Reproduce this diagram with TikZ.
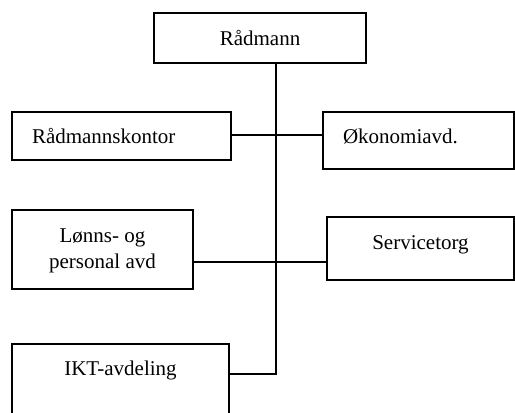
\documentclass[tikz,border=0pt]{standalone}
\usepackage{fontspec}
\setmainfont{Liberation Serif}
\usepackage{tikz}
\usetikzlibrary{calc}
\tikzstyle{line} = [draw, line width=2pt]
\tikzstyle{unit} = [rectangle, draw, line width=2pt, inner sep=0pt, outer sep=0pt, anchor=north west, align=center, font=\fontsize{21}{26.7}\selectfont]
\tikzstyle{unit_left} = [unit, align=left, inner xsep=20pt]

\begin{document}
\begin{tikzpicture}[x=1pt, y=-1pt]

\useasboundingbox (0,0) rectangle (515,413);

\node [unit, minimum width=212pt, text height=32pt, text depth=18pt] (radmann) at (154,13) {Rådmann};

\node [unit_left, text width=179pt, text height=31pt, text depth=17pt] (kontor) at (12,112) {Rådmannskontor};
\node [unit_left, text width=151pt, text height=31pt, text depth=26pt] (okonomi) at (323,112) {Økonomiavd.};

\node [unit, minimum width=181pt, text height=58.7pt, text depth=20.3pt] (lonns) at (12,210) {Lønns- og\\personal avd};
\node [unit, minimum width=187pt, text height=32pt, text depth=31pt] (service) at (327,217) {Servicetorg};

\node [unit, minimum width=217pt, text height=31pt, text depth=59pt] (ikt) at (12,344) {IKT-avdeling};

\coordinate (hub1) at (276,135);
\coordinate (hub2) at (276,262);
\coordinate (hub3) at (276,374);

\path [line] (radmann.south -| hub1) -- (hub3) -- (ikt.east |- hub3);
\path [line] (kontor.east |- hub1) -- (okonomi.west |- hub1);
\path [line] (lonns.east |- hub2) -- (service.west |- hub2);

\end{tikzpicture}
\end{document}
